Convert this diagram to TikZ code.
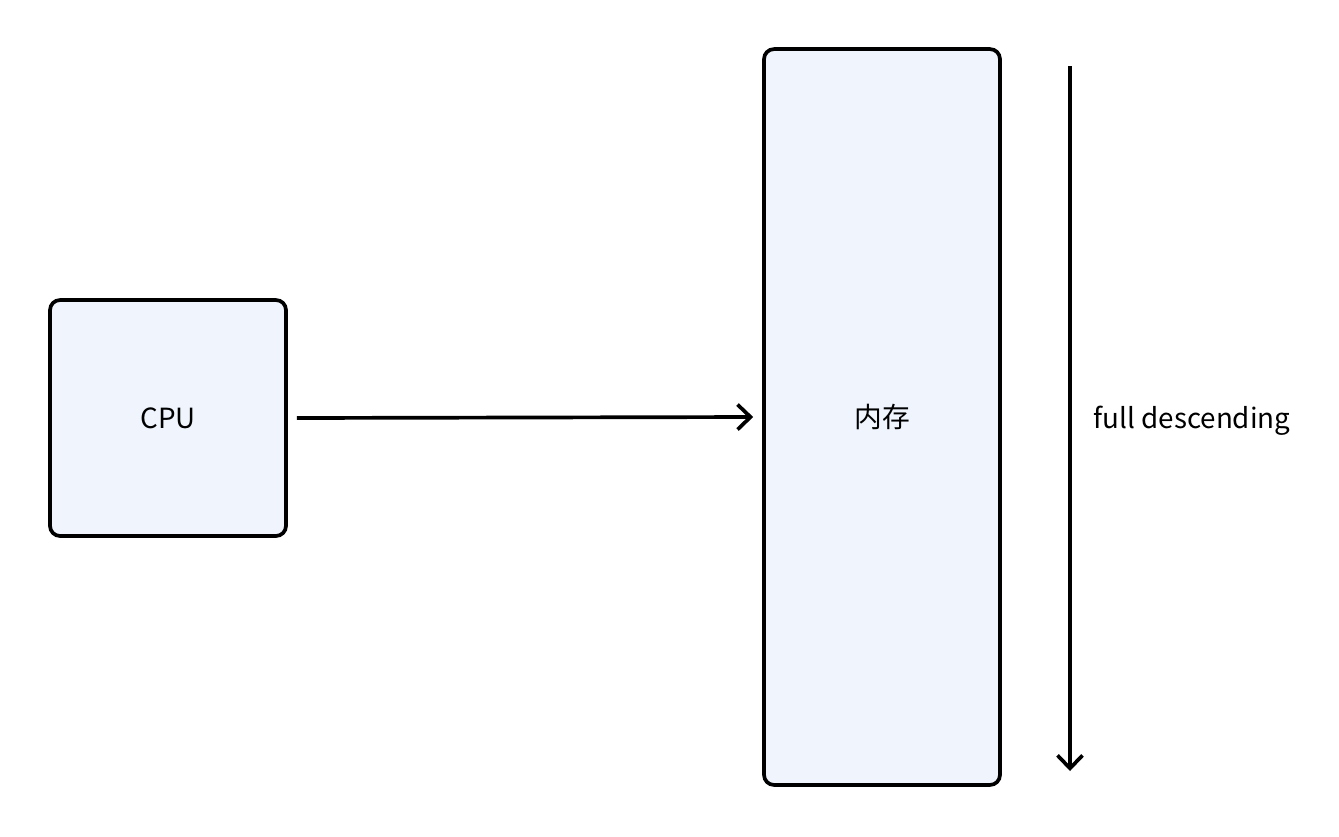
\documentclass[tikz,border=0pt]{standalone}
\usepackage{fontspec}
\setmainfont{Noto Sans CJK SC}
\usetikzlibrary{arrows.meta}

\tikzset{
  block/.style={draw, line width=2.1pt, rounded corners=0.2cm, fill=boxfill, minimum width=4.72cm, font=\fontsize{15.8}{18}\selectfont},
  link/.style={line width=2.1pt, -{Straight Barb[length=0.26cm, width=0.5cm, line width=2.1pt]}}
}
\definecolor{boxfill}{HTML}{EFF4FD}

\begin{document}
\begin{tikzpicture}[x=0.02cm, y=-0.02cm]
\useasboundingbox (0,0) rectangle (1339,836);
\node (cpu) [block, minimum height=4.72cm] at (168,418) {CPU};
\node (mem) [block, minimum height=14.72cm] at (882,417) {内存};
\coordinate (top) at (1070,66);
\coordinate (bot) at (1070,771);
\node (dir) [font=\fontsize{15.8}{18}\selectfont] at (1192,421) {full descending};
\draw[link] ([xshift=0.18cm]cpu.east) -- ([xshift=-0.18cm]mem.west);
\draw[link] (top) -- (bot);
\end{tikzpicture}
\end{document}
